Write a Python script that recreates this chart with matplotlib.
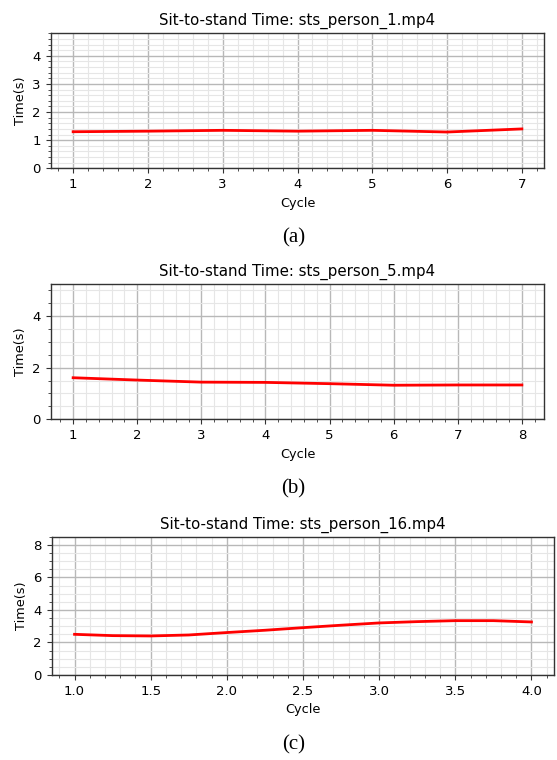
import matplotlib
matplotlib.use("Agg")
import matplotlib.pyplot as plt

# values
cycles_a = [1, 2, 3, 4, 5, 6, 7]
times_a = [1.30, 1.32, 1.35, 1.32, 1.35, 1.29, 1.40]

cycles_b = [1, 2, 3, 4, 5, 6, 7, 8]
times_b = [1.61, 1.52, 1.44, 1.43, 1.38, 1.32, 1.33, 1.33]

cycles_c = [1.0, 1.25, 1.5, 1.75, 2.0, 2.25, 2.5, 2.75, 3.0, 3.25, 3.5, 3.75, 4.0]
times_c = [2.50, 2.42, 2.40, 2.46, 2.61, 2.75, 2.91, 3.06, 3.20, 3.28, 3.34, 3.34, 3.26]

titles = ["Sit-to-stand Time: sts_person_1.mp4",
          "Sit-to-stand Time: sts_person_5.mp4",
          "Sit-to-stand Time: sts_person_16.mp4"]
captions = ["(a)", "(b)", "(c)"]
ylims = [4.8, 5.23, 8.5]

W, H = 557, 760
fig = plt.figure(figsize=(W / 100, H / 100), dpi=100)

# axes boxes in pixels: left, right, top, bottom
boxes = [(50.7, 544.3, 33.3, 168.3),
         (50.7, 544.3, 284.3, 419.3),
         (51.7, 554.3, 536.7, 675.0)]
caption_y = [238, 489, 745]

series = [(cycles_a, times_a), (cycles_b, times_b), (cycles_c, times_c)]

for i, (x, y) in enumerate(series):
    l, r, t, b = boxes[i]
    ax = fig.add_axes([l / W, 1 - b / H, (r - l) / W, (b - t) / H])
    ax.plot(x, y, color="red", lw=2)
    ax.set_ylim(0, ylims[i])
    pad = (x[-1] - x[0]) * 0.05
    ax.set_xlim(x[0] - pad, x[-1] + pad)
    ax.minorticks_on()
    ax.grid(which="major", color="#b8b8b8", lw=1.0)
    ax.grid(which="minor", color="#e6e6e6", lw=0.8)
    ax.set_axisbelow(True)
    ax.set_title(titles[i], fontsize=10.8, pad=6)
    ax.set_xlabel("Cycle", fontsize=9.3, labelpad=4)
    ax.set_ylabel("Time(s)", fontsize=9.3, labelpad=4)
    ax.tick_params(which="major", labelsize=9.5, length=3.5, color="#333333")
    ax.tick_params(which="minor", length=2, color="#333333")
    for s in ax.spines.values():
        s.set_color("#333333")
        s.set_linewidth(1.0)
    fig.text(0.527, 1 - caption_y[i] / H, captions[i], ha="center", va="center",
             fontsize=15, family="Liberation Serif")

fig.savefig("out.png", dpi=100)
